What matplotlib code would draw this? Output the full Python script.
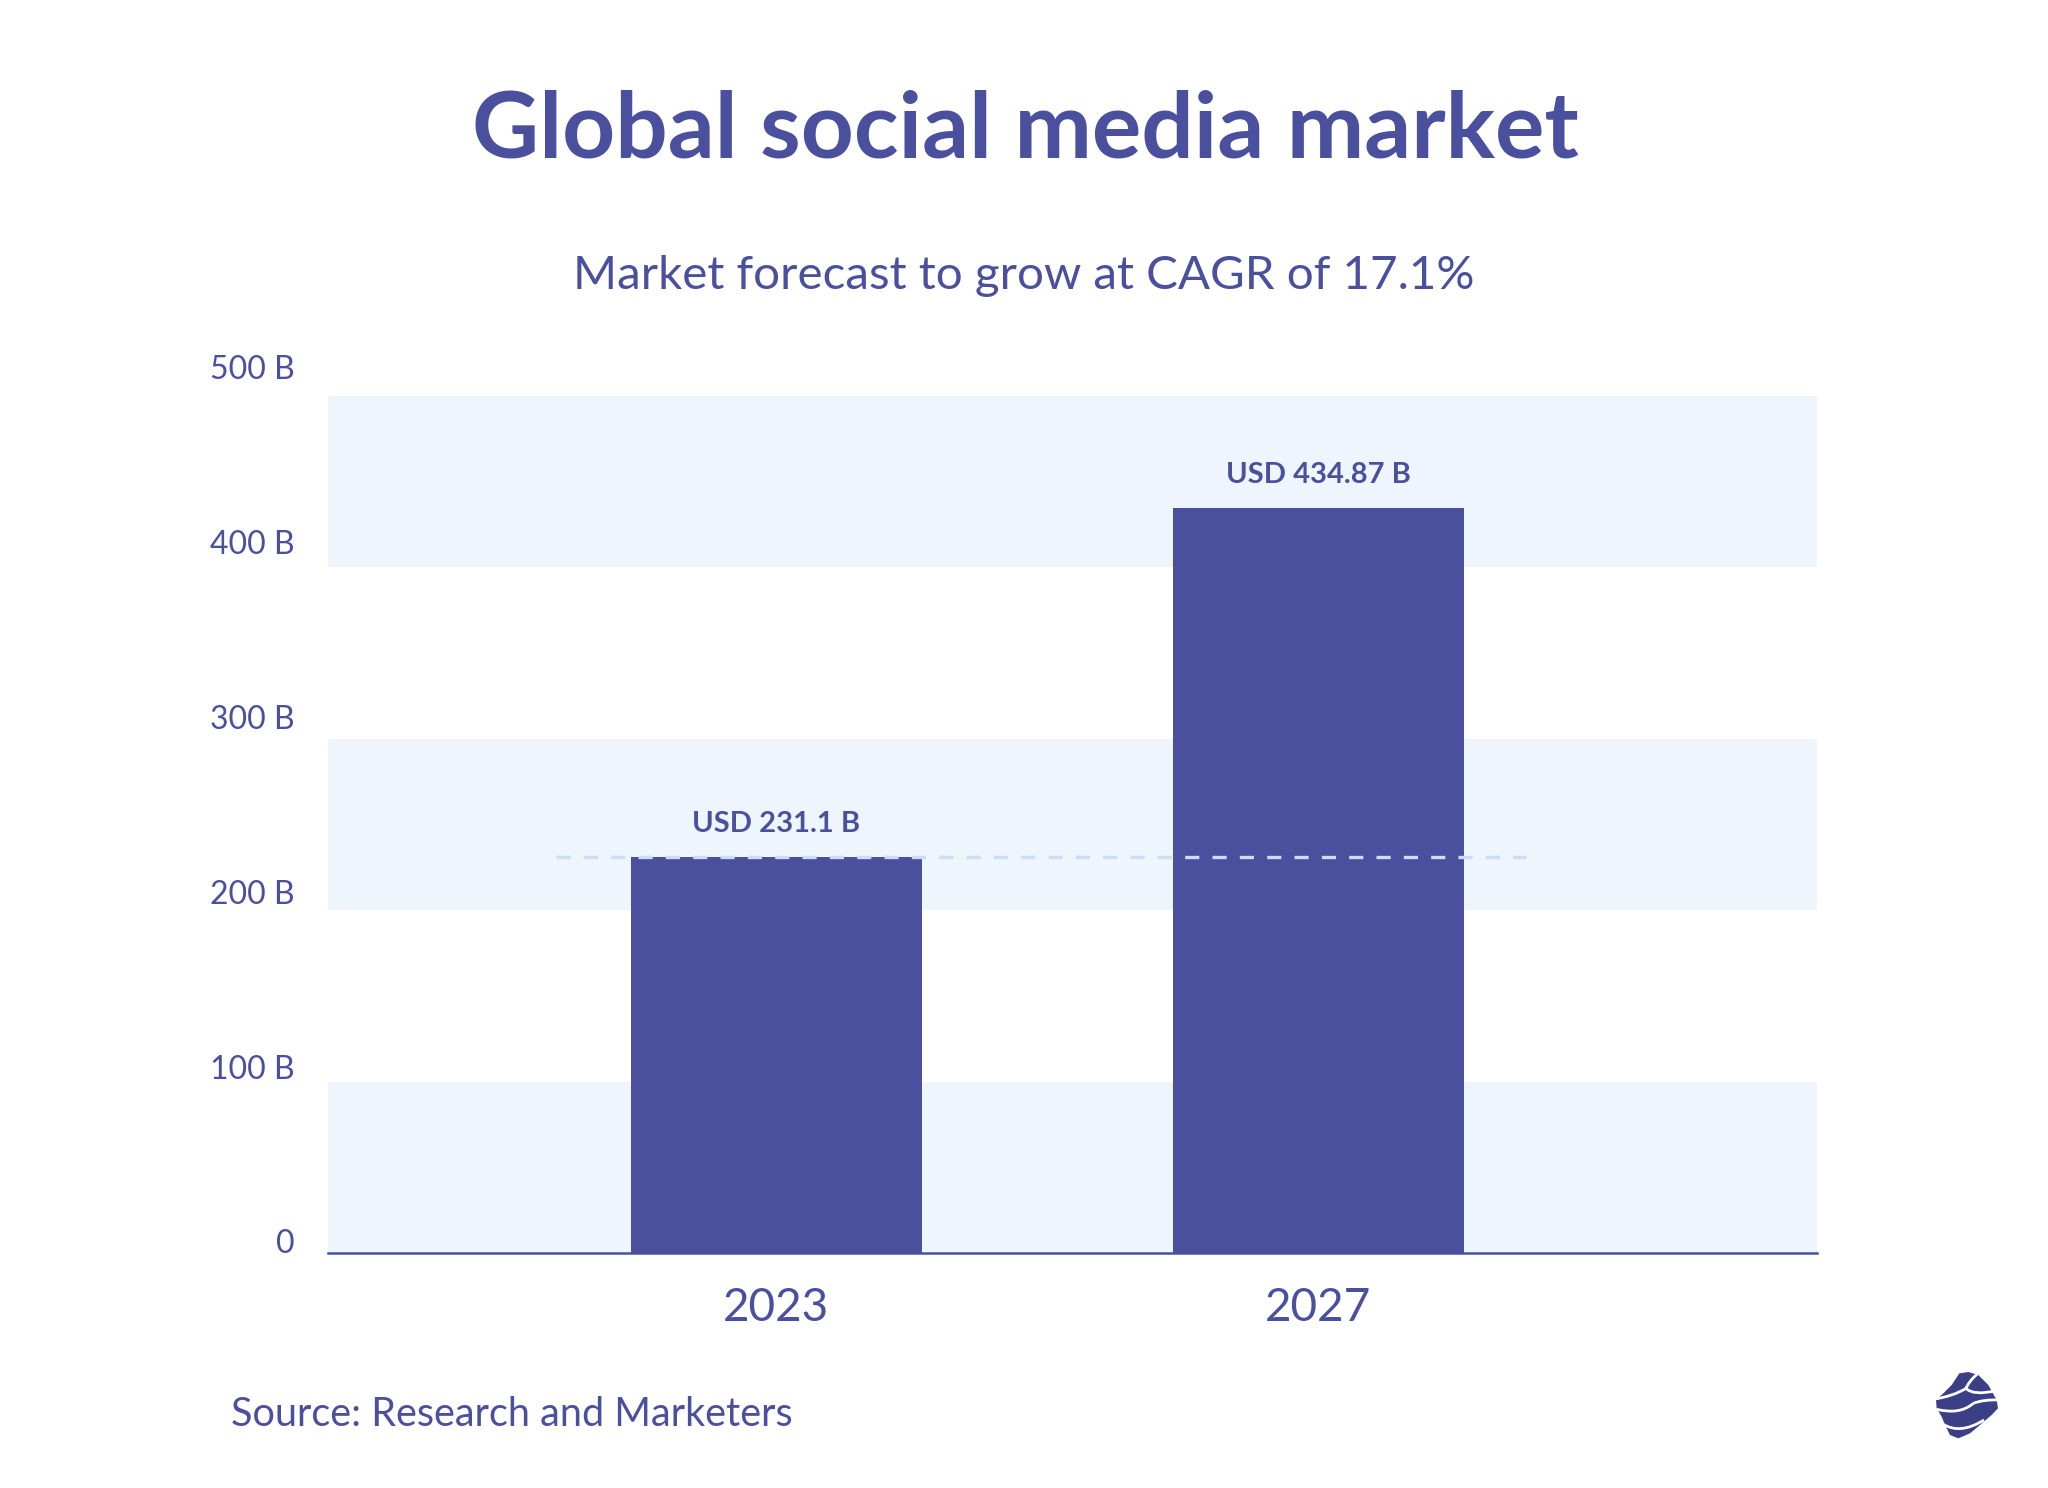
#!/usr/bin/env python3
"""Global social media market bar chart."""

import matplotlib
matplotlib.use("Agg")
import matplotlib.pyplot as plt
from matplotlib.patches import PathPatch
from matplotlib.path import Path

W, H = 2048, 1488
BLUE = "#4A4F9E"
BAND = "#EEF5FD"
DASH = "#C9DEFA"
LOGO = "#3B3F85"

years = ["2023", "2027"]
market_size = [231.1, 434.87]
value_labels = ["USD 231.1 B", "USD 434.87 B"]
y_values = [0, 100, 200, 300, 400, 500]
y_labels = ["0", "100 B", "200 B", "300 B", "400 B", "500 B"]
bands = [(0, 100), (200, 300), (400, 500)]

plt.rcParams["font.family"] = ["Lato", "DejaVu Sans"]


def fig_text(fig, x, y, s, **kw):
    """Place text using pixel coords from the top left."""
    kw.setdefault("color", BLUE)
    fig.text(x / W, 1 - y / H, s, **kw)


def draw_logo(fig):
    ax = fig.add_axes([1880 / W, 1 - 1488 / H, 168 / W, 148 / H])
    ax.set_xlim(0, 504)
    ax.set_ylim(444, 0)
    ax.axis("off")
    outline = [(238, 100), (265, 96), (295, 105), (325, 135), (350, 180),
               (354, 205), (335, 225), (300, 255), (270, 280), (235, 295),
               (210, 285), (195, 255), (185, 230), (170, 205), (168, 180),
               (190, 160), (215, 135)]
    ax.fill(*zip(*outline), color=LOGO, lw=0, joinstyle="round")
    strokes = [
        [(160, 178), (222, 168), (258, 145)],
        [(258, 145), (268, 122), (292, 102)],
        [(258, 145), (280, 168), (348, 152)],
        [(170, 208), (240, 225), (280, 190)],
        [(280, 190), (310, 178), (358, 180)],
        [(188, 252), (240, 285), (312, 240)],
    ]
    for pts in strokes:
        path = Path(pts, [Path.MOVETO, Path.CURVE3, Path.CURVE3])
        ax.add_patch(PathPatch(path, fc="none", ec="white", lw=2.0))


def main():
    fig = plt.figure(figsize=(W / 100, H / 100), dpi=100, facecolor="white")
    ax = fig.add_axes([328 / W, 1 - 1253 / H, 1489 / W, 857 / H])

    for low, high in bands:
        ax.axhspan(low, high, color=BAND, lw=0, zorder=0)

    xs = range(len(years))
    ax.bar(xs, market_size, width=0.537, color=BLUE, zorder=2)
    ax.plot([-0.407, 1.383], [market_size[0], market_size[0]], color=DASH, lw=2.4,
            dashes=(4.25, 3.95), dash_capstyle="butt", zorder=3)

    for side in ("top", "left", "right"):
        ax.spines[side].set_visible(False)
    ax.spines["bottom"].set_color(BLUE)
    ax.spines["bottom"].set_linewidth(1.8)
    ax.spines["bottom"].set_zorder(1)

    ax.set_xticks(list(xs), years, fontsize=33, color=BLUE)
    ax.tick_params(axis="x", length=0, pad=24.5)
    ax.set_yticks([])
    # y labels sit a little off the band edges in the original, so not real ticks
    for v, label in zip(y_values, y_labels):
        ax.text(-33 / 1489, v * 1.02 + 5, label, transform=ax.get_yaxis_transform(),
                ha="right", va="center", fontsize=23, color=BLUE, clip_on=False)

    ax.set_xlim(-0.8275, 1.92)
    ax.set_ylim(0, 500)

    for x, v, label in zip(xs, market_size, value_labels):
        ax.annotate(label, (x, v), xytext=(0, 23.5), textcoords="offset points",
                    ha="center", va="center", fontsize=21, fontweight="bold",
                    color=BLUE)

    fig_text(fig, 1025, 131, "Global social media market", fontsize=66.6,
             fontweight="bold", ha="center", va="center")
    fig_text(fig, 1024, 276, "Market forecast to grow at CAGR of 17.1%", fontsize=34.2,
             ha="center", va="center")
    fig_text(fig, 231, 1415, "Source: Research and Marketers", fontsize=28.5,
             ha="left", va="center")

    draw_logo(fig)
    fig.savefig("out.png", dpi=100, facecolor="white")


if __name__ == "__main__":
    main()
